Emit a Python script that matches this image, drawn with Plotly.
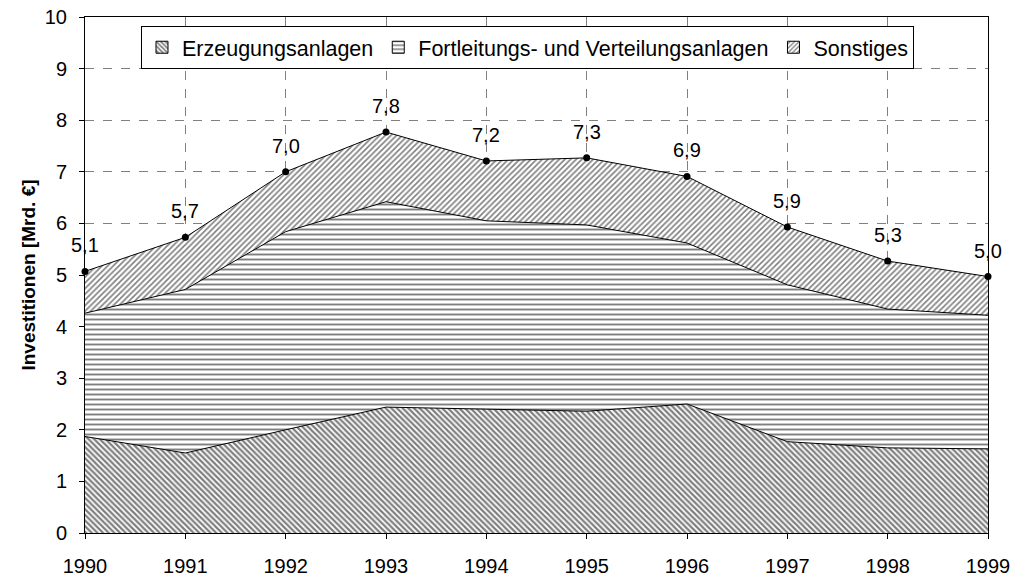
import plotly.graph_objects as go

# Investitionen der Stromversorger, Mrd. €
years = [1990, 1991, 1992, 1993, 1994, 1995, 1996, 1997, 1998, 1999]
erzeugung = [1.87, 1.55, 2.00, 2.44, 2.40, 2.36, 2.50, 1.77, 1.65, 1.63]
fortleitung = [2.39, 3.17, 3.84, 3.98, 3.65, 3.61, 3.12, 3.04, 2.69, 2.59]
sonstiges = [0.81, 1.01, 1.16, 1.35, 1.16, 1.30, 1.29, 1.12, 0.93, 0.75]

totals = [round(a + b + c, 2) for a, b, c in zip(erzeugung, fortleitung, sonstiges)]
total_labels = [f"{t:.1f}".replace(".", ",") for t in totals]

FONT = "Liberation Sans, Arial, sans-serif"

fig = go.Figure()

series = [
    ("Erzeugungsanlagen", erzeugung, dict(shape="\\", fgcolor="black", bgcolor="white", size=4, solidity=0.55)),
    ("Fortleitungs- und Verteilungsanlagen", fortleitung, dict(shape="-", fgcolor="black", bgcolor="white", size=5, solidity=0.38)),
    ("Sonstiges", sonstiges, dict(shape="/", fgcolor="black", bgcolor="white", size=4, solidity=0.4)),
]

# stacked areas (legend handled by the bar proxies below)
for name, vals, pat in series:
    fig.add_trace(go.Scatter(
        x=years, y=vals, name=name, mode="lines", stackgroup="inv",
        line=dict(color="black", width=1),
        fillcolor="white", fillpattern=pat,
        hoverinfo="skip", showlegend=False,
    ))

# legend entries drawn as patterned boxes
for name, vals, pat in series:
    fig.add_trace(go.Bar(
        x=[None], y=[None], name=name,
        marker=dict(color="white", line=dict(color="black", width=1), pattern=pat),
        showlegend=True,
    ))

# total markers
fig.add_trace(go.Scatter(
    x=years, y=totals, mode="markers",
    marker=dict(color="black", size=7), showlegend=False, cliponaxis=False,
    hoverinfo="skip",
))

for yr, t, lab in zip(years, totals, total_labels):
    fig.add_annotation(
        x=yr, y=t, text=lab, showarrow=False, xanchor="center", yanchor="middle",
        yshift=26, font=dict(size=20, color="black", family=FONT),
    )

grid = dict(showgrid=True, gridcolor="#808080", griddash="dash", gridwidth=1)

fig.update_xaxes(
    range=[1990, 1999], tickmode="array", tickvals=years, ticktext=[str(y) for y in years],
    ticks="outside", ticklen=5, tickcolor="black", ticklabelstandoff=10,
    showline=True, linecolor="black", linewidth=1, mirror=True, automargin=False,
    tickfont=dict(size=20, color="black", family=FONT), **grid,
)
fig.update_yaxes(
    range=[0, 10], dtick=1, ticks="outside", ticklen=5, tickcolor="black", ticklabelstandoff=8,
    showline=True, linecolor="black", linewidth=1, mirror=True, automargin=False,
    tickfont=dict(size=20, color="black", family=FONT), zeroline=False,
    title=dict(text="<b>Investitionen [Mrd. €]</b>", font=dict(size=19, color="black", family=FONT), standoff=4),
    **grid,
)

fig.update_layout(
    width=1015, height=583,
    margin=dict(l=85, r=27, t=17, b=50, autoexpand=False),
    paper_bgcolor="white", plot_bgcolor="white",
    font=dict(family=FONT, color="black"),
    barmode="overlay",
    legend=dict(
        orientation="h", x=0.062, y=0.983, xanchor="left", yanchor="top",
        bgcolor="white", bordercolor="black", borderwidth=1,
        font=dict(size=21.5, color="black", family=FONT),
        traceorder="normal", itemwidth=30,
    ),
    showlegend=True,
)

fig.write_html("out.html")
